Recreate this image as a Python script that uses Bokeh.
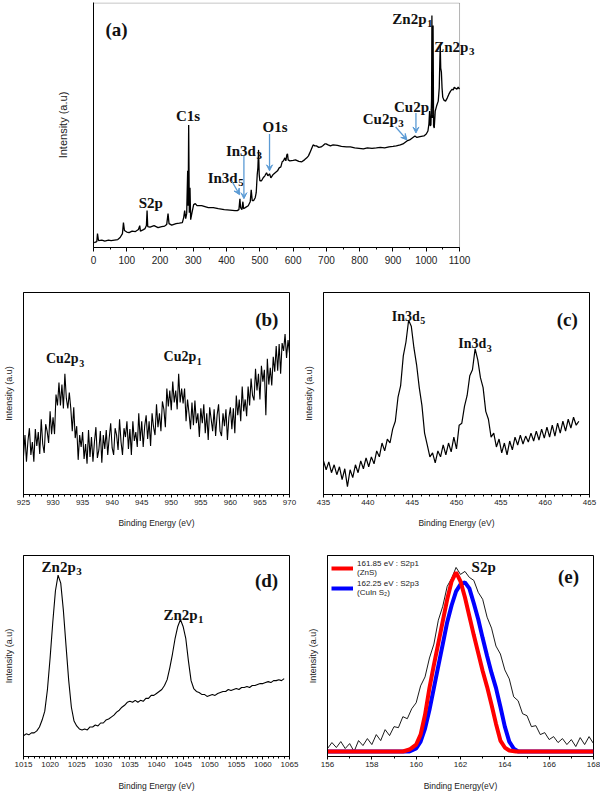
from bokeh.plotting import figure
from bokeh.layouts import column, row
from bokeh.models import (Label, Arrow, VeeHead, Range1d, Legend, LegendItem,
                          SingleIntervalTicker, FixedTicker, BoxAnnotation)
from bokeh.embed import file_html
from bokeh.resources import INLINE

# ---------------- (a) survey spectrum ----------------
survey_be = [2, 10, 12, 15, 25, 34, 45, 53, 63, 73,
             80, 87, 90, 93, 100, 107, 116, 126, 135, 139,
             141, 150, 155, 159, 161, 163, 170, 182, 188, 194,
             205, 214, 220, 224, 227, 235, 248, 258, 267, 271,
             274, 277, 280, 283, 284.5, 286, 288, 290, 292, 296,
             301, 306, 311, 325, 345, 360, 375, 393, 410, 425,
             432, 437, 440, 442, 446, 449, 451, 456, 465, 471,
             474, 477, 481, 486, 489, 492, 494, 496, 498, 500,
             505, 510, 515, 520, 524, 529, 533, 539, 546, 553,
             558, 563, 567, 571, 575, 578, 581, 583, 585, 590,
             600, 607, 617, 626, 634, 641, 646, 650, 655, 660,
             665, 670, 677, 684, 690, 695, 699, 705, 712, 720,
             733, 745, 760, 772, 785, 798, 811, 823, 837, 850,
             862, 875, 888, 900, 910, 922, 930, 938, 942, 950,
             958, 966, 972, 978, 985, 993, 1000, 1005, 1008, 1010,
             1012, 1014, 1016, 1017, 1018, 1019.5, 1020.5, 1022, 1024, 1027,
             1031, 1036, 1039, 1041, 1042, 1043.5, 1045.5, 1047.5, 1049.5, 1053,
             1058, 1063, 1068, 1073, 1078, 1081, 1084, 1088, 1092, 1096,
             1100]
survey_int = [5, 6, 14, 7, 7.5, 6.5, 7.5, 7, 7.5, 8,
              10, 14, 25, 17, 15.5, 15, 16.5, 16, 18, 22,
              16.5, 18, 19, 22, 37, 21, 20.5, 22, 21, 20,
              21, 21.5, 23, 34, 24, 22.5, 24, 24.5, 25, 30,
              37, 29, 34, 77, 42, 123, 35, 60, 28, 35,
              43, 44, 42, 42, 40, 40, 39, 38, 37.5, 37,
              37, 38, 49, 40, 38, 46, 39, 40, 42, 46,
              58, 47, 47, 50, 55, 73, 80, 98, 73, 67,
              67, 70, 72, 75, 72, 74, 70, 73, 75, 77,
              80, 81, 86, 87, 90, 87, 93, 94, 88, 87,
              87.5, 88, 86.5, 86, 88, 90, 92, 95, 99, 103,
              102, 102, 100.5, 101, 102.5, 104, 104, 103, 102, 103,
              102.5, 101.5, 101, 101, 100, 99.5, 99, 100, 99.5, 100,
              100.5, 100, 101, 101.5, 102, 103, 104, 106, 107, 108,
              110, 112, 110.5, 111, 111.5, 112, 114, 117, 124, 137,
              122, 123, 150, 233, 130, 150, 223, 122, 120, 137,
              142, 147, 160, 190, 203, 180, 176, 160, 151, 148,
              147, 150, 154, 157, 159, 158, 161, 160, 159, 161,
              159]
# peak labels of (a): (main text, subscript, x, baseline y)
survey_labels = [("S2p", "", 136, 45), ("C1s", "", 248, 132),
                 ("In3d", "5", 343, 70), ("In3d", "3", 398, 97),
                 ("O1s", "", 508, 121), ("Cu2p", "3", 809, 129),
                 ("Cu2p", "1", 903, 141), ("Zn2p", "1", 898, 229.5),
                 ("Zn2p", "3", 1024, 201)]
# arrows of (a): (x_start, y_start, x_end, y_end)
survey_arrows = [(415, 67, 439, 53), (452, 92, 452, 49), (529, 114, 529, 77),
                 (908, 121, 942, 108), (969, 135, 969, 115)]

# ---------------- (b) Cu 2p ----------------
cu_be = [925.0, 925.25, 925.5, 925.75, 926.0, 926.25, 926.5, 926.75, 927.0, 927.25,
         927.5, 927.75, 928.0, 928.25, 928.5, 928.75, 929.0, 929.25, 929.5, 929.75,
         930.0, 930.25, 930.5, 930.75, 931.0, 931.25, 931.5, 931.75, 932.0, 932.25,
         932.5, 932.75, 933.0, 933.25, 933.5, 933.75, 934.0, 934.25, 934.5, 934.75,
         935.0, 935.25, 935.5, 935.75, 936.0, 936.25, 936.5, 936.75, 937.0, 937.25,
         937.5, 937.75, 938.0, 938.25, 938.5, 938.75, 939.0, 939.25, 939.5, 939.75,
         940.0, 940.25, 940.5, 940.75, 941.0, 941.25, 941.5, 941.75, 942.0, 942.25,
         942.5, 942.75, 943.0, 943.25, 943.5, 943.75, 944.0, 944.25, 944.5, 944.75,
         945.0, 945.25, 945.5, 945.75, 946.0, 946.25, 946.5, 946.75, 947.0, 947.25,
         947.5, 947.75, 948.0, 948.25, 948.5, 948.75, 949.0, 949.25, 949.5, 949.75,
         950.0, 950.25, 950.5, 950.75, 951.0, 951.25, 951.5, 951.75, 952.0, 952.25,
         952.5, 952.75, 953.0, 953.25, 953.5, 953.75, 954.0, 954.25, 954.5, 954.75,
         955.0, 955.25, 955.5, 955.75, 956.0, 956.25, 956.5, 956.75, 957.0, 957.25,
         957.5, 957.75, 958.0, 958.25, 958.5, 958.75, 959.0, 959.25, 959.5, 959.75,
         960.0, 960.25, 960.5, 960.75, 961.0, 961.25, 961.5, 961.75, 962.0, 962.25,
         962.5, 962.75, 963.0, 963.25, 963.5, 963.75, 964.0, 964.25, 964.5, 964.75,
         965.0, 965.25, 965.5, 965.75, 966.0, 966.25, 966.5, 966.75, 967.0, 967.25,
         967.5, 967.75, 968.0, 968.25, 968.5, 968.75, 969.0, 969.25, 969.5, 969.75,
         970.0]
cu_int = [39, 60, 33, 54, 67, 40, 53, 33, 66, 49,
          63, 41, 76, 51, 42, 71, 64, 52, 84, 61,
          78, 61, 101, 90, 113, 90, 111, 87, 122, 97,
          87, 103, 87, 64, 88, 57, 69, 35, 60, 48,
          63, 36, 51, 31, 65, 38, 58, 33, 53, 68,
          37, 45, 64, 32, 60, 46, 65, 40, 57, 72,
          47, 40, 67, 60, 45, 76, 53, 40, 67, 58,
          74, 46, 66, 40, 74, 54, 63, 48, 82, 54,
          74, 48, 69, 80, 56, 74, 49, 82, 68, 60,
          91, 68, 82, 64, 94, 86, 68, 107, 89, 105,
          85, 114, 93, 105, 86, 122, 93, 107, 92, 107,
          74, 96, 82, 66, 93, 70, 95, 72, 82, 58,
          87, 72, 91, 62, 82, 55, 88, 76, 64, 86,
          59, 80, 91, 64, 59, 82, 69, 86, 55, 78,
          88, 66, 87, 62, 100, 80, 96, 74, 109, 84,
          96, 79, 109, 90, 117, 100, 95, 127, 105, 122,
          96, 130, 114, 126, 80, 137, 111, 128, 110, 139,
          124, 150, 125, 152, 122, 153, 145, 162, 138, 156,
          143]
cu_labels = [("Cu2p", "3", 928.8, 137), ("Cu2p", "1", 948.7, 139)]

# ---------------- (c) In 3d ----------------
in_be = [435.0, 435.3, 435.6, 435.9, 436.2, 436.5, 436.8, 437.1, 437.4, 437.7,
         438.0, 438.3, 438.6, 438.9, 439.2, 439.5, 439.8, 440.1, 440.4, 440.7,
         441.0, 441.3, 441.6, 441.9, 442.2, 442.5, 442.8, 443.1, 443.4, 443.7,
         444.0, 444.3, 444.6, 444.9, 445.2, 445.5, 445.8, 446.1, 446.4, 446.7,
         447.0, 447.3, 447.6, 447.9, 448.2, 448.5, 448.8, 449.1, 449.4, 449.7,
         450.0, 450.3, 450.6, 450.9, 451.2, 451.5, 451.8, 452.1, 452.4, 452.7,
         453.0, 453.3, 453.6, 453.9, 454.2, 454.5, 454.8, 455.1, 455.4, 455.7,
         456.0, 456.3, 456.6, 456.9, 457.2, 457.5, 457.8, 458.1, 458.4, 458.7,
         459.0, 459.3, 459.6, 459.9, 460.2, 460.5, 460.8, 461.1, 461.4, 461.7,
         462.0, 462.3, 462.6, 462.9, 463.2, 463.5, 463.8]
in_int = [34, 25, 33, 22, 30, 20, 28, 15, 26, 8,
          25, 17, 30, 22, 34, 26, 37, 28, 38, 31,
          44, 38, 52, 44, 56, 52, 66, 74, 98, 110,
          140, 154, 176, 170, 148, 131, 108, 90, 62, 50,
          38, 42, 32, 44, 38, 50, 40, 52, 43, 58,
          46, 70, 72, 89, 100, 120, 126, 147, 136, 118,
          108, 84, 76, 58, 62, 48, 56, 42, 52, 40,
          54, 45, 58, 50, 60, 51, 59, 53, 62, 54,
          64, 55, 66, 57, 68, 58, 70, 59, 72, 62,
          74, 64, 76, 67, 78, 70, 74]
in_labels = [("In3d", "5", 442.7, 180), ("In3d", "3", 450.2, 152)]

# ---------------- (d) Zn 2p ----------------
zn_be = [1015.0, 1015.5, 1016.0, 1016.5, 1017.0, 1017.5, 1018.0, 1018.5, 1019.0, 1019.5,
         1020.0, 1020.5, 1021.0, 1021.5, 1022.0, 1022.5, 1023.0, 1023.5, 1024.0, 1024.5,
         1025.0, 1025.5, 1026.0, 1026.5, 1027.0, 1027.5, 1028.0, 1028.5, 1029.0, 1029.5,
         1030.0, 1030.5, 1031.0, 1031.5, 1032.0, 1032.5, 1033.0, 1033.5, 1034.0, 1034.5,
         1035.0, 1035.5, 1036.0, 1036.5, 1037.0, 1037.5, 1038.0, 1038.5, 1039.0, 1039.5,
         1040.0, 1040.5, 1041.0, 1041.5, 1042.0, 1042.5, 1043.0, 1043.5, 1044.0, 1044.5,
         1045.0, 1045.5, 1046.0, 1046.5, 1047.0, 1047.5, 1048.0, 1048.5, 1049.0, 1049.5,
         1050.0, 1050.5, 1051.0, 1051.5, 1052.0, 1052.5, 1053.0, 1053.5, 1054.0, 1054.5,
         1055.0, 1055.5, 1056.0, 1056.5, 1057.0, 1057.5, 1058.0, 1058.5, 1059.0, 1059.5,
         1060.0, 1060.5, 1061.0, 1061.5, 1062.0, 1062.5, 1063.0, 1063.5, 1064.0]
zn_int = [21, 23, 22, 24, 24, 26, 30, 37, 46, 68,
          100, 136, 168, 184, 176, 148, 112, 77, 50, 36,
          31, 28, 27, 28, 27, 30, 30, 32, 31, 34,
          34, 37, 38, 40, 42, 45, 47, 50, 52, 55,
          56, 55, 57, 55, 57, 56, 59, 59, 62, 62,
          64, 66, 68, 72, 78, 90, 104, 120, 132, 139,
          132, 120, 97, 77, 69, 66, 65, 63, 63, 61,
          62, 63, 62, 64, 65, 66, 66, 68, 67, 68,
          69, 68, 70, 70, 71, 70, 72, 72, 73, 74,
          74, 75, 76, 75, 77, 77, 78, 77, 79]
zn_labels = [("Zn2p", "3", 1018.4, 192), ("Zn2p", "1", 1041.3, 144)]

# ---------------- (e) S 2p ----------------
s_be = [156.0, 156.2, 156.4, 156.6, 156.8, 157.0, 157.2, 157.4, 157.6, 157.8,
        158.0, 158.2, 158.4, 158.6, 158.8, 159.0, 159.2, 159.4, 159.6, 159.8,
        160.0, 160.2, 160.4, 160.6, 160.8, 161.0, 161.2, 161.4, 161.6, 161.8,
        162.0, 162.2, 162.4, 162.6, 162.8, 163.0, 163.2, 163.4, 163.6, 163.8,
        164.0, 164.2, 164.4, 164.6, 164.8, 165.0, 165.2, 165.4, 165.6, 165.8,
        166.0, 166.2, 166.4, 166.6, 166.8, 167.0, 167.2, 167.4, 167.6, 167.8,
        168.0]
s_int = [8, 14, 9, 15, 8, 13, 5, 16, 11, 18,
         12, 22, 16, 27, 21, 30, 29, 40, 38, 48,
         54, 71, 80, 99, 113, 137, 151, 171, 179, 190,
         183, 186, 180, 177, 165, 158, 140, 129, 111, 103,
         87, 78, 60, 56, 43, 41, 30, 31, 22, 24,
         17, 20, 14, 18, 12, 17, 10, 19, 12, 20,
         13]
zns_be = [156.0, 159.4, 159.7, 160.0, 160.2, 160.4, 160.6, 160.8, 161.0, 161.2,
          161.4, 161.6, 161.8, 162.0, 162.2, 162.4, 162.6, 162.8, 163.0, 163.2,
          163.4, 163.6, 163.8, 164.0, 164.2, 164.5, 168.0]
zns_int = [5, 5, 7, 12, 22, 42, 69, 92, 114, 136,
           158, 176, 185, 176, 160, 141, 122, 104, 86, 70,
           52, 33, 16, 9, 6, 5, 5]
cis_be = [156.0, 159.7, 160.0, 160.2, 160.4, 160.6, 160.8, 161.0, 161.2, 161.4,
          161.6, 161.8, 162.0, 162.2, 162.4, 162.6, 162.8, 163.0, 163.2, 163.4,
          163.6, 163.8, 164.0, 164.2, 164.4, 164.6, 168.0]
cis_int = [5, 5, 8, 15, 28, 47, 69, 91, 113, 135,
           152, 166, 173, 175, 169, 154, 138, 119, 101, 84,
           69, 50, 30, 15, 8, 5, 5]
legend_labels = ["161.85 eV : S2p1\n(ZnS)", "162.25 eV : S2p3\n(CuIn S\u2082)"]
s_labels = [("S2p", "", 162.5, 190)]

# panel letters (text, x, baseline y)
panel_tags = {"a": ("(a)", 36, 219), "b": ("(b)", 964.2, 177), "c": ("(c)", 461.3, 177),
              "d": ("(d)", 1058.5, 179), "e": ("(e)", 166.4, 181)}

SERIF = "Liberation Serif"
SANS = "Liberation Sans"
ARROW_C = "#5b9bd5"
# Times bold advance widths (em) for subscript placement
BW = {"Z": .667, "n": .556, "2": .5, "p": .556, "C": .722, "u": .556, "I": .389,
      "3": .5, "d": .556, "O": .778, "1": .5, "s": .389, "S": .556}


def tw(s, size):
    return sum(BW.get(c, .5) for c in s) * size


def add_peak_label(p, main, sub, x, y, size):
    p.add_layout(Label(x=x, y=y, text=main, text_font=SERIF, text_font_style="bold",
                       text_font_size=f"{size}px", text_color="#111111",
                       text_baseline="alphabetic", text_align="left"))
    if sub:
        p.add_layout(Label(x=x, y=y, x_offset=tw(main, size) + 0.5, y_offset=-size * 0.3,
                           text=sub, text_font=SERIF, text_font_style="bold",
                           text_font_size=f"{round(size * 0.72)}px", text_color="#111111",
                           text_baseline="alphabetic", text_align="left"))


def add_tag(p, key):
    t, x, y = panel_tags[key]
    p.add_layout(Label(x=x, y=y, text=t, text_font=SERIF, text_font_style="bold",
                       text_font_size="19px", text_color="#111111",
                       text_baseline="alphabetic", text_align="left"))


def make_fig(w, h, l, r, t, b, xr, yr, xtick, minor, ticksize, ylabel_size,
             ylabel_standoff, xlabel=None, xlabel_standoff=10, tick_standoff=2):
    p = figure(width=w, height=h, min_border_left=l, min_border_right=r,
               min_border_top=t, min_border_bottom=b,
               x_range=Range1d(*xr), y_range=Range1d(*yr),
               output_backend="svg", toolbar_location=None)
    p.grid.visible = False
    p.outline_line_color = "black"
    p.outline_line_width = 1
    p.background_fill_color = "white"
    p.border_fill_color = "white"
    xa = p.xaxis[0]
    xa.ticker = SingleIntervalTicker(interval=xtick, num_minor_ticks=minor)
    xa.major_tick_in = 0
    xa.major_tick_out = 3
    xa.minor_tick_in = 0
    xa.minor_tick_out = 2
    xa.axis_line_color = "black"
    xa.major_label_text_font = SANS
    xa.major_label_text_font_size = ticksize
    xa.major_label_text_color = "#222222"
    xa.major_label_standoff = tick_standoff
    if xlabel:
        xa.axis_label = xlabel
        xa.axis_label_text_font = SANS
        xa.axis_label_text_font_size = "8.5px"
        xa.axis_label_text_font_style = "normal"
        xa.axis_label_text_color = "#222222"
        xa.axis_label_standoff = xlabel_standoff
    ya = p.yaxis[0]
    ya.ticker = FixedTicker(ticks=[], minor_ticks=[])
    ya.axis_label = "Intensity (a.u)"
    ya.axis_label_text_font = SANS
    ya.axis_label_text_font_size = ylabel_size
    ya.axis_label_text_font_style = "normal"
    ya.axis_label_text_color = "#222222"
    ya.axis_label_standoff = ylabel_standoff
    ya.major_label_standoff = 0
    ya.axis_line_color = "black"
    ya.major_tick_line_color = None
    ya.minor_tick_line_color = None
    ya.major_tick_out = 0
    ya.major_tick_in = 0
    return p


# ---------- (a) ----------
pa = make_fig(600, 270, 93, 121, 2, 23, (0, 1160), (0, 246), 100, 2, "10px", "11px", 25,
              tick_standoff=4)
pa.outline_line_color = None
pa.xaxis[0].bounds = (0, 1100)
pa.xaxis[0].major_tick_out = 4
pa.add_layout(BoxAnnotation(left=0, right=1100, bottom=0, top=245.5, fill_color=None,
                            line_color="black", line_width=1))
pa.line(survey_be, survey_int, line_color="black", line_width=1.3)
for m, s, x, y in survey_labels:
    add_peak_label(pa, m, s, x, y, 15)
for x0, y0, x1, y1 in survey_arrows:
    pa.add_layout(Arrow(end=VeeHead(size=6, line_color=ARROW_C, fill_color=ARROW_C, line_width=1),
                        x_start=x0, y_start=y0, x_end=x1, y_end=y1,
                        line_color=ARROW_C, line_width=1.3))
add_tag(pa, "a")

# ---------- (b) ----------
pb = make_fig(300, 260, 23, 11, 22, 34, (925, 970), (0, 204), 5, 5, "8px", "9px", 10,
              xlabel="Binding Energy (eV)", xlabel_standoff=10)
pb.line(cu_be, cu_int, line_color="black", line_width=1.1)
for m, s, x, y in cu_labels:
    add_peak_label(pb, m, s, x, y, 14)
add_tag(pb, "b")

# ---------- (c) ----------
pc = make_fig(300, 260, 23, 11, 22, 34, (435, 465), (0, 204), 5, 5, "8px", "9px", 10,
              xlabel="Binding Energy (eV)", xlabel_standoff=10)
pc.line(in_be, in_int, line_color="black", line_width=1.2)
for m, s, x, y in in_labels:
    add_peak_label(pc, m, s, x, y, 14)
add_tag(pc, "c")

# ---------- (d) ----------
pd_ = make_fig(300, 263, 23, 11, 23, 36, (1015, 1065), (0, 204), 5, 5, "8px", "9px", 10,
               xlabel="Binding Energy (eV)", xlabel_standoff=11)
pd_.line(zn_be, zn_int, line_color="black", line_width=1.1)
for m, s, x, y in zn_labels:
    add_peak_label(pd_, m, s, x, y, 15)
add_tag(pd_, "d")

# ---------- (e) ----------
pe = make_fig(300, 263, 27, 7, 25, 36, (156, 168), (0, 202), 2, 2, "8px", "9px", 10,
              xlabel="Binding Energy(eV)", xlabel_standoff=11)
pe.line(s_be, s_int, line_color="black", line_width=0.9)
r_blue = pe.line(cis_be, cis_int, line_color="#0000ff", line_width=4)
r_red = pe.line(zns_be, zns_int, line_color="#ff0000", line_width=4)
legend = Legend(items=[LegendItem(label=legend_labels[0], renderers=[r_red]),
                       LegendItem(label=legend_labels[1], renderers=[r_blue])],
                location="top_left", border_line_color=None, background_fill_alpha=0,
                label_text_font=SANS, label_text_font_size="8px",
                label_text_color="#222222", glyph_width=22, glyph_height=10,
                label_height=10, padding=2, spacing=2, margin=4, label_standoff=4)
pe.add_layout(legend)
for m, s, x, y in s_labels:
    add_peak_label(pe, m, s, x, y, 15)
add_tag(pe, "e")

layout = column(pa, row(pb, pc), row(pd_, pe))
open("out.html", "w").write(file_html(layout, INLINE))
